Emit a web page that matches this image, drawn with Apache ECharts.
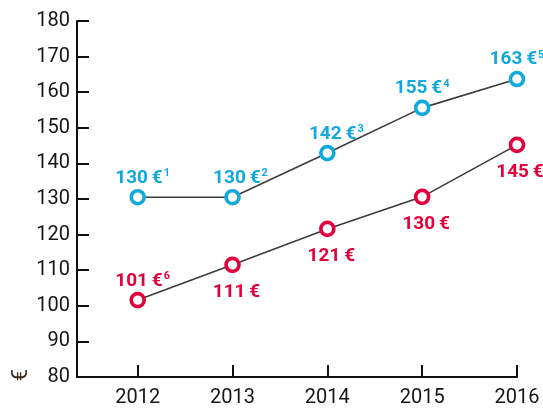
<!DOCTYPE html>
<html>
<head>
<meta charset="utf-8">
<script src="https://cdn.jsdelivr.net/npm/echarts@6/dist/echarts.min.js"></script>
<style>
    html, body { margin: 0; padding: 0; background: #fff; }
    #chart { width: 543px; height: 408px; }
</style>
</head>
<body>
<div id="chart"></div>
<script>
// years and prices (euro), labels show the whole euros
const years = [2012, 2013, 2014, 2015, 2016]
const upperValues = [130.5, 130.5, 142.9, 155.6, 163.7]
const upperNotes = ['1', '2', '3', '4', '5']
const lowerValues = [101.6, 111.5, 121.6, 130.6, 145.2]
const lowerNotes = ['6', '', '', '', '']
const lowerBelow = [false, true, true, true, true]
const yTicks = { min: 80, max: 180, interval: 10 }

// small horizontal nudges of the value labels
const upperShift = [5, 8, 9, 0, 0]
const lowerShift = [5, 4, 4, 4, 3]

const blue = '#10a9dc'
const red = '#e2003c'
const lineGray = '#3c3c3c'

function labelText(v, note) {
    let s = '{v|' + Math.floor(v) + '\u2009€}'
    if (note) s += '{s|' + note + '}'
    return s
}

function labelRich(color) {
    return {
        v: { fontFamily: 'Roboto', fontWeight: 'bold', fontSize: 19, color: color },
        s: { fontFamily: 'Roboto', fontWeight: 'bold', fontSize: 11, color: color, verticalAlign: 'top', padding: [0, 0, 9, 1] },
    }
}

function makeData(values, notes, below, shift, color) {
    return values.map((v, i) => ({
        value: [years[i], v],
        label: {
            show: true,
            position: below && below[i] ? 'bottom' : 'top',
            distance: below && below[i] ? 10 : 1,
            padding: [0, 0, 0, shift[i] * 2],
            formatter: labelText(v, notes[i]),
            rich: labelRich(color),
        },
    }))
}

function makeSeries(data, color) {
    return {
        type: 'line',
        data: data,
        symbol: 'circle',
        symbolSize: 13,
        lineStyle: { color: lineGray, width: 1.6 },
        itemStyle: { color: '#fff', borderColor: color, borderWidth: 3.6 },
        emphasis: { disabled: true },
        labelLayout: { hideOverlap: false },
        animation: false,
        z: 3,
    }
}

const axisText = { fontFamily: 'Roboto', fontSize: 20, color: '#161616' }

const options = {
    backgroundColor: '#fff',
    animation: false,
    grid: { left: 77, right: 26, top: 21, bottom: 31, containLabel: false, outerBoundsMode: 'none' },
    xAxis: {
        type: 'value',
        min: 2011.36,
        max: years[years.length - 1],
        minInterval: 1,
        maxInterval: 1,
        splitLine: { show: false },
        axisLine: { show: true, lineStyle: { color: '#111', width: 2 } },
        axisTick: { show: true, inside: true, length: 12, lineStyle: { color: '#111', width: 2 } },
        axisLabel: Object.assign({ margin: 11, formatter: v => (years.indexOf(v) >= 0 ? String(v) : '') }, axisText),
    },
    yAxis: {
        type: 'value',
        min: yTicks.min,
        max: yTicks.max,
        interval: yTicks.interval,
        splitLine: { show: false },
        axisLine: { show: true, lineStyle: { color: '#111', width: 2 } },
        axisTick: { show: true, inside: true, length: 12, lineStyle: { color: '#111', width: 2 } },
        axisLabel: Object.assign({ margin: 7 }, axisText),
    },
    graphic: [{
        type: 'text',
        left: 10,
        top: 369,
        rotation: Math.PI / 2,
        style: { text: '€', fontFamily: 'Roboto', fontSize: 22, fill: '#3a2c22' },
    }],
    series: [
        makeSeries(makeData(upperValues, upperNotes, null, upperShift, blue), blue),
        makeSeries(makeData(lowerValues, lowerNotes, lowerBelow, lowerShift, red), red),
    ],
}

echarts.init(document.getElementById('chart')).setOption(options)
</script>
</body>
</html>
